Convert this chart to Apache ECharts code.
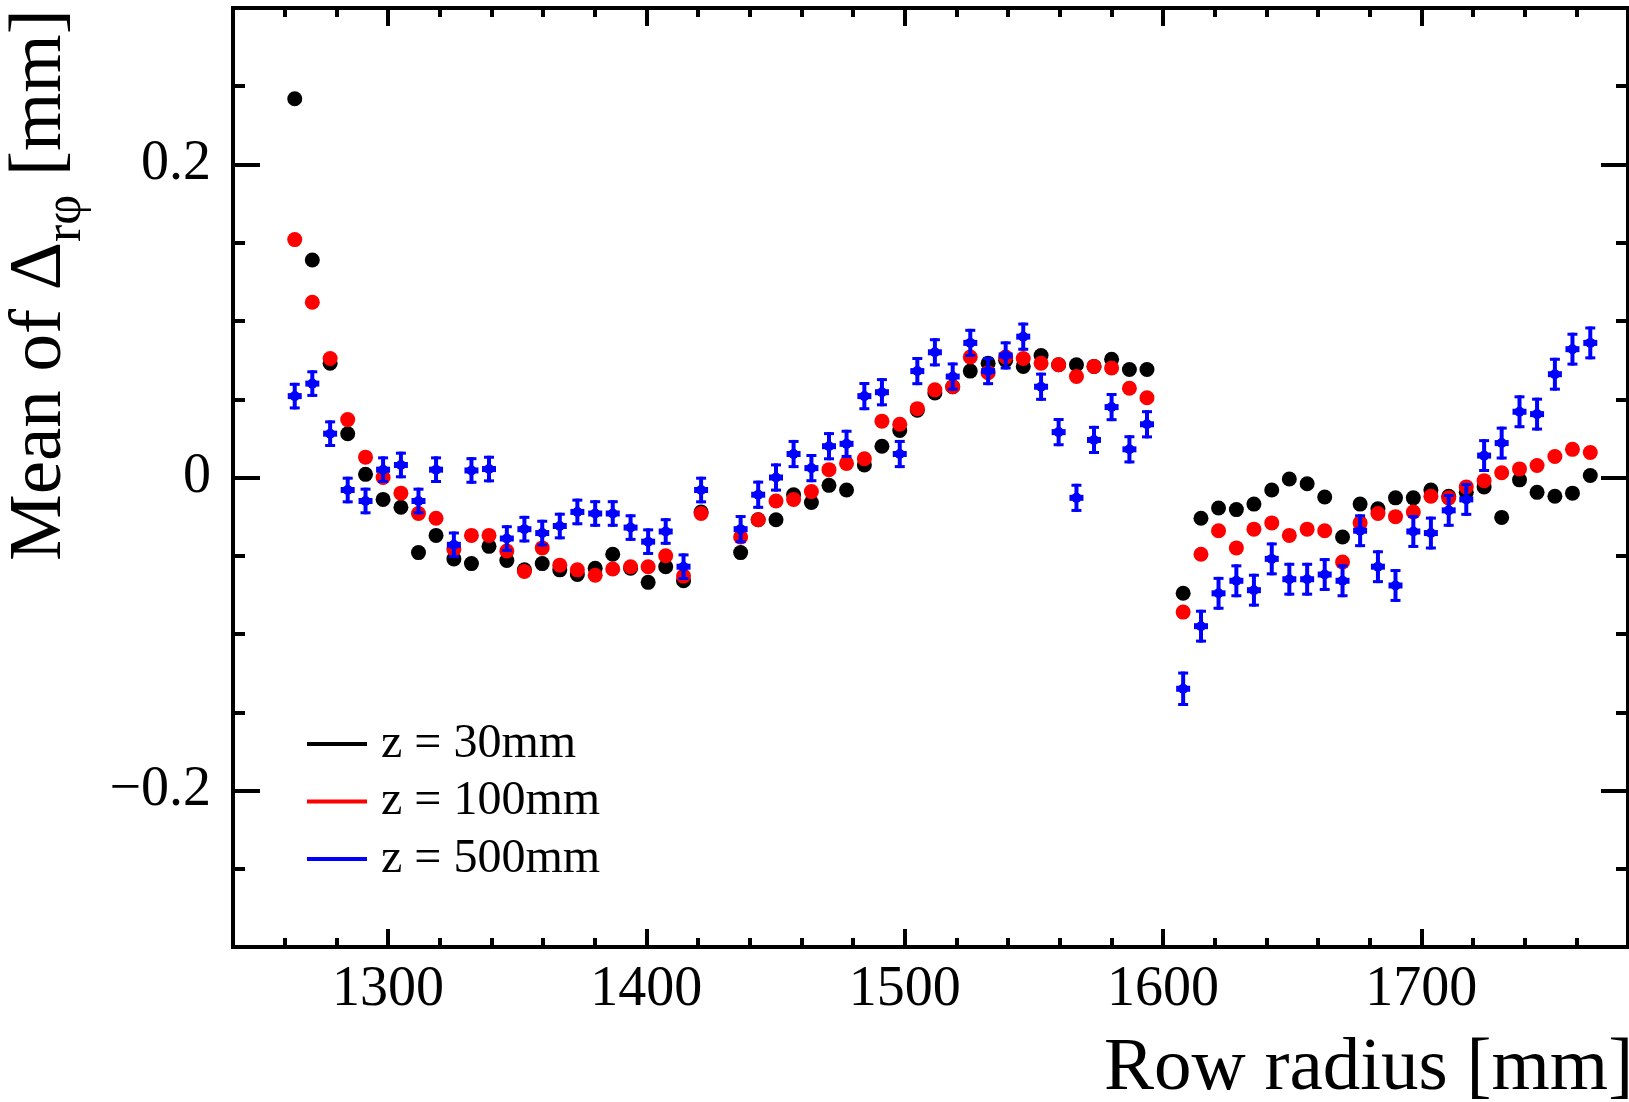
<!DOCTYPE html>
<html>
<head>
<meta charset="utf-8">
<script src="https://cdn.jsdelivr.net/npm/echarts@6.0.0/dist/echarts.min.js"></script>
<style>
html,body{margin:0;padding:0;background:#fff;}
#chart{width:1629px;height:1102px;}
</style>
</head>
<body>
<div id="chart"></div>
<script>
// ---- data ----
const rowRadius = [
  1263.9,1270.7,1277.6,1284.4,1291.3,1298.1,1305.0,1311.8,1318.6,1325.5,1332.3,1339.1,
  1346.0,1352.8,1359.7,1366.5,1373.3,1380.2,1387.0,1393.9,1400.7,1407.5,1414.4,1421.2,
  1436.5,1443.3,1450.2,1457.0,1463.9,1470.7,1477.5,1484.4,1491.2,1498.1,1504.9,1511.7,
  1518.6,1525.4,1532.3,1539.1,1545.9,1552.8,1559.6,1566.5,1573.3,1580.1,1587.0,1593.8,
  1607.8,1614.7,1621.5,1628.4,1635.2,1642.1,1648.9,1655.8,1662.6,1669.5,1676.3,1683.2,
  1690.0,1696.9,1703.7,1710.6,1717.4,1724.3,1731.1,1738.0,1744.8,1751.7,1758.5,1765.4
];
const meanZ30 = [
  0.242,0.139,0.073,0.028,0.002,-0.014,-0.019,-0.048,-0.037,-0.052,-0.055,-0.044,
  -0.053,-0.059,-0.055,-0.059,-0.062,-0.058,-0.049,-0.058,-0.067,-0.057,-0.066,-0.022,
  -0.048,-0.027,-0.027,-0.011,-0.016,-0.005,-0.008,0.008,0.020,0.030,0.043,0.054,
  0.058,0.068,0.073,0.075,0.071,0.078,0.072,0.072,0.071,0.0755,0.069,0.069,
  -0.074,-0.026,-0.0195,-0.0205,-0.017,-0.008,-0.001,-0.004,-0.0125,-0.038,-0.017,-0.020,
  -0.013,-0.013,-0.008,-0.012,-0.0095,-0.006,-0.0255,-0.0015,-0.0095,-0.012,-0.010,0.0013
];
const meanZ100 = [
  0.152,0.112,0.076,0.037,0.013,0.000,-0.010,-0.023,-0.026,-0.046,-0.037,-0.037,
  -0.047,-0.060,-0.045,-0.056,-0.059,-0.0625,-0.0585,-0.057,-0.057,-0.050,-0.063,-0.023,
  -0.038,-0.027,-0.015,-0.014,-0.009,0.005,0.009,0.012,0.036,0.034,0.044,0.056,
  0.058,0.077,0.067,0.077,0.076,0.073,0.072,0.0645,0.071,0.070,0.057,0.051,
  -0.086,-0.049,-0.034,-0.045,-0.033,-0.029,-0.037,-0.033,-0.034,-0.054,-0.029,-0.023,
  -0.025,-0.022,-0.012,-0.013,-0.006,-0.002,0.003,0.0055,0.0077,0.0134,0.018,0.016
];
const meanZ500 = [
  0.052,0.060,0.028,-0.008,-0.015,0.005,0.008,-0.015,0.005,-0.043,0.0045,0.0054,
  -0.039,-0.033,-0.0355,-0.031,-0.022,-0.023,-0.023,-0.032,-0.041,-0.0345,-0.057,-0.008,
  -0.033,-0.011,0.000,0.015,0.006,0.020,0.0215,0.052,0.0545,0.015,0.068,0.080,
  0.0645,0.086,0.068,0.078,0.090,0.058,0.029,-0.013,0.024,0.045,0.018,0.034,
  -0.135,-0.095,-0.074,-0.066,-0.072,-0.052,-0.065,-0.065,-0.062,-0.066,-0.034,-0.057,
  -0.069,-0.0345,-0.0355,-0.021,-0.014,0.014,0.022,0.042,0.0405,0.066,0.082,0.086
];
const errZ500 = [
  0.0085,0.0085,0.0085,0.0085,0.0085,0.0085,0.0085,0.0085,0.0085,0.0085,0.0085,0.0085,
  0.0085,0.0085,0.0085,0.0085,0.0085,0.0085,0.0085,0.0085,0.0085,0.0085,0.0085,0.0085,
  0.009,0.009,0.009,0.009,0.009,0.009,0.009,0.009,0.009,0.009,0.009,0.009,
  0.009,0.009,0.009,0.009,0.009,0.009,0.009,0.009,0.009,0.009,0.009,0.009,
  0.011,0.0105,0.0105,0.0105,0.0105,0.0105,0.0105,0.0105,0.0105,0.0105,0.0105,0.0105,
  0.0105,0.0105,0.0105,0.0105,0.0105,0.0105,0.0105,0.0105,0.0105,0.0105,0.0105,0.0105
];
const seriesNames = ['z = 30mm','z = 100mm','z = 500mm'];
const seriesColors = ['#000000','#ff0000','#0000ff'];
const xLabelValues = [1300,1400,1500,1600,1700];
const yLabelValues = [-0.2,0,0.2];
const xTitle = 'Row radius [mm]';
const yTitleParts = ['Mean of \u0394','r\u03c6',' [mm]'];

// ---- chart ----
const FONT = '"Liberation Serif","Times New Roman",serif';
const chart = echarts.init(document.getElementById('chart'), null, {renderer:'canvas'});

function pairs(ys){ return rowRadius.map((x,i)=>[x, ys[i]]); }
const blueData = rowRadius.map((x,i)=>[x, meanZ500[i], errZ500[i]]);

function xAxisBase(pos, labels){
  return {
    type:'value', position:pos, min:1240, max:1780, interval:20,
    axisLine:{show:true, onZero:false, lineStyle:{color:'#000', width:4, cap:'square'}},
    axisTick:{show:true, inside:true, length:9, lineStyle:{color:'#000', width:4}},
    axisLabel: labels ? {show:true, customValues:xLabelValues, fontSize:56, fontFamily:FONT, color:'#000', margin:15,
      formatter:v => String(Math.round(v))} : {show:false},
    splitLine:{show:false}
  };
}
function xAxisMajor(pos){
  return {
    type:'value', position:pos, min:1240, max:1780,
    axisLine:{show:false, onZero:false},
    axisTick:{show:true, inside:true, length:18, customValues:xLabelValues, lineStyle:{color:'#000', width:4}},
    axisLabel:{show:false}, splitLine:{show:false}
  };
}
function yAxisBase(pos, labels){
  return {
    type:'value', position:pos, min:-0.3, max:0.3, interval:0.05,
    axisLine:{show:true, onZero:false, lineStyle:{color:'#000', width:4, cap:'square'}},
    axisTick:{show:true, inside:true, length:12, lineStyle:{color:'#000', width:4}},
    axisLabel: labels ? {show:true, customValues:yLabelValues, fontSize:56, fontFamily:FONT, color:'#000', margin:22,
      formatter:v => Math.abs(v) < 1e-9 ? '0' : (v < 0 ? '\u2212' : '') + Math.abs(v).toFixed(1)} : {show:false},
    splitLine:{show:false}
  };
}
function yAxisMajor(pos){
  return {
    type:'value', position:pos, min:-0.3, max:0.3,
    axisLine:{show:false, onZero:false},
    axisTick:{show:true, inside:true, length:27, customValues:yLabelValues, lineStyle:{color:'#000', width:4}},
    axisLabel:{show:false}, splitLine:{show:false}
  };
}

function renderBlue(params, api){
  const x = api.value(0), y = api.value(1), e = api.value(2);
  const c = api.coord([x, y]);
  const t = api.coord([x, y + e]);
  const b = api.coord([x, y - e]);
  const col = seriesColors[2];
  return {type:'group', children:[
    {type:'line', shape:{x1:c[0], y1:t[1], x2:c[0], y2:b[1]}, style:{stroke:col, lineWidth:4}},
    {type:'line', shape:{x1:c[0]-5, y1:t[1]+1.5, x2:c[0]+5, y2:t[1]+1.5}, style:{stroke:col, lineWidth:3}},
    {type:'line', shape:{x1:c[0]-5, y1:b[1]-1.5, x2:c[0]+5, y2:b[1]-1.5}, style:{stroke:col, lineWidth:3}},
    {type:'rect', shape:{x:c[0]-7, y:c[1]-3, width:14, height:6}, style:{fill:col}},
    {type:'circle', shape:{cx:c[0], cy:c[1], r:5}, style:{fill:col}}
  ]};
}

// y-title pieces, measured so they can be chained along the rotated axis
const ctx = document.createElement('canvas').getContext('2d');
function tw(txt, size){ ctx.font = size + 'px ' + FONT; return ctx.measureText(txt).width; }
const mainSize = 75, subSize = 52;
const yStart = 561;
const w1 = tw(yTitleParts[0], mainSize), w2 = tw(yTitleParts[1], subSize);
const yTitleGraphics = [
  {type:'text', x:40, y:yStart, rotation:Math.PI/2,
   style:{text:yTitleParts[0], font:mainSize+'px '+FONT, fill:'#000', align:'left', verticalAlign:'middle'}},
  {type:'text', x:66, y:yStart - w1, rotation:Math.PI/2,
   style:{text:yTitleParts[1], font:subSize+'px '+FONT, fill:'#000', align:'left', verticalAlign:'middle'}},
  {type:'text', x:40, y:yStart - w1 - w2, rotation:Math.PI/2,
   style:{text:yTitleParts[2], font:mainSize+'px '+FONT, fill:'#000', align:'left', verticalAlign:'middle'}}
];

const option = {
  animation:false,
  backgroundColor:'#ffffff',
  grid:{left:233, right:1, top:8, bottom:155, containLabel:false},
  legend:{
    show:true, orient:'vertical', left:307, top:720, selectedMode:false,
    icon:'rect', itemWidth:60, itemHeight:4, itemGap:9.5, padding:0,
    data:seriesNames,
    textStyle:{fontSize:48, fontFamily:FONT, color:'#000', padding:[0,0,0,9]}
  },
  xAxis:[xAxisBase('bottom', true), xAxisMajor('bottom'), xAxisBase('top', false), xAxisMajor('top')],
  yAxis:[yAxisBase('left', true), yAxisMajor('left'), yAxisBase('right', false), yAxisMajor('right')],
  graphic:[
    {type:'text', x:1104, y:1069,
     style:{text:xTitle, font:'75px '+FONT, fill:'#000', align:'left', verticalAlign:'middle'}}
  ].concat(yTitleGraphics),
  series:[
    {name:seriesNames[0], type:'scatter', xAxisIndex:0, yAxisIndex:0, symbol:'circle', symbolSize:15,
     itemStyle:{color:seriesColors[0], opacity:1}, data:pairs(meanZ30), z:2},
    {name:seriesNames[1], type:'scatter', xAxisIndex:0, yAxisIndex:0, symbol:'circle', symbolSize:15,
     itemStyle:{color:seriesColors[1], opacity:1}, data:pairs(meanZ100), z:3},
    {name:seriesNames[2], type:'custom', xAxisIndex:0, yAxisIndex:0, renderItem:renderBlue,
     itemStyle:{color:seriesColors[2], opacity:1}, encode:{x:0, y:1}, data:blueData, z:4}
  ]
};
chart.setOption(option);
</script>
</body>
</html>
